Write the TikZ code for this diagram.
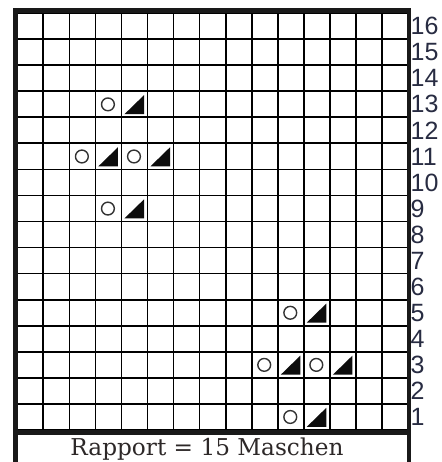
\documentclass[tikz,border=0pt]{standalone}
\usepackage{fontspec}
\newfontfamily\numfont{Liberation Sans}
\newfontfamily\capfont{DejaVu Serif}
\definecolor{numcol}{RGB}{40,44,66}
\definecolor{capcol}{RGB}{45,40,40}
\newcommand\numsize{\numfont\fontsize{25}{25}\selectfont}
\newcommand\capsize{\capfont\fontsize{23.2}{24}\selectfont}
\tikzset{
  gridline/.style={line width=1.7pt,black},
  border/.style={line width=4.8pt,black!90,line join=miter},
  yarnover/.style={line width=1.4pt,black!80},
  decrease/.style={fill=black!95},
  rownum/.style={anchor=west,inner sep=0pt,font=\numsize,text=numcol},
  captiontext/.style={anchor=base,inner sep=0pt,font=\capsize,text=capcol}
}
\begin{document}
\begin{tikzpicture}[x=1pt,y=-1pt]
\useasboundingbox (0,0) rectangle (441,462);
\fill[white] (0,0) rectangle (441,462);
\def\cx{17.25}\def\cy{13.1}\def\cs{26.05}\def\by{430}
% grid
\foreach \i in {0,...,15} \draw[gridline] ({\cx+\i*\cs},\cy) -- ({\cx+\i*\cs},\by);
\foreach \j in {0,...,16} \draw[gridline] (\cx,{\cy+\j*\cs}) -- ({\cx+15*\cs},{\cy+\j*\cs});
% thick frame
\draw[border] (15.5,462) -- (15.5,10.5) -- (409,10.5) -- (409,462);
\draw[border] (15.5,432.5) -- (409,432.5);
% yarn-overs
\foreach \c/\r in {4/13,3/11,5/11,4/9,11/5,10/3,12/3,11/1}
  \draw[yarnover] ({\cx+(\c-0.5)*\cs-0.5},{\by-(\r-0.5)*\cs}) circle (6.4pt);
% decreases
\foreach \c/\r in {5/13,4/11,6/11,5/9,12/5,11/3,13/3,12/1}
  \fill[decrease] ({\cx+(\c-1)*\cs+3},{\by-(\r-1)*\cs-3.2})
    -- ({\cx+\c*\cs-3.5},{\by-(\r-1)*\cs-3.2})
    -- ({\cx+\c*\cs-3.5},{\by-\r*\cs+3.8}) -- cycle;
% row numbers
\foreach \r in {1,...,16}
  \node[rownum] (r\r) at (410.5,{\by-(\r-0.5)*\cs}) {\r};
% caption
\node[captiontext] (rapport) at (207,455) {Rapport = 15 Maschen};
\end{tikzpicture}
\end{document}
